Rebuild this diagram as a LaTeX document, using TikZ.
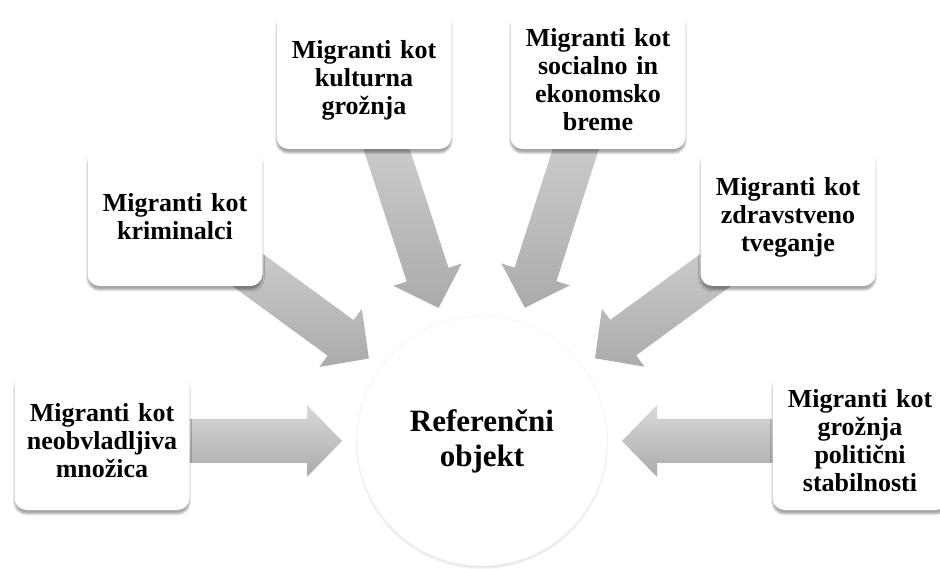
\documentclass[tikz,border=0pt]{standalone}
\usepackage{fontspec}
\setmainfont{Liberation Serif}
\usetikzlibrary{calc,backgrounds,shadows.blur}
% block arrow from a label box (#1) towards the hub (#2)
\newcommand{\blockarrow}[2]{%
  \coordinate (tip) at ($(#2.center)!140pt!(#1.center)$);
  \coordinate (neck) at ($(#2.center)!175pt!(#1.center)$);
  \coordinate (barbl) at ($(neck)!36pt!90:(#1.center)$);
  \coordinate (barbr) at ($(neck)!36pt!-90:(#1.center)$);
  \coordinate (shl) at ($(neck)!22pt!90:(#1.center)$);
  \coordinate (shr) at ($(neck)!22pt!-90:(#1.center)$);
  \coordinate (taill) at ($(#1.center)!22pt!-90:(#2.center)$);
  \coordinate (tailr) at ($(#1.center)!22pt!90:(#2.center)$);
  \shade[fat arrow] (tip) -- (barbl) -- (shl) -- (taill) -- (tailr) -- (shr) -- (barbr) -- cycle;
}
\begin{document}
\begin{tikzpicture}[x=1pt,y=1pt,
  frame/.style={rectangle, rounded corners=12pt, fill=white, minimum width=175pt,
    minimum height=138pt, text width=170pt, align=center, inner sep=0pt,
    font=\fontsize{26}{28}\selectfont\bfseries,
    blur shadow={shadow xshift=0pt, shadow yshift=-4pt, shadow blur steps=6, shadow opacity=35}},
  hub/.style={circle, fill=white, draw=gray!12, minimum size=250pt, inner sep=0pt,
    align=center, font=\fontsize{31}{35}\selectfont\bfseries,
    blur shadow={shadow xshift=0pt, shadow yshift=-2pt, shadow blur steps=6, shadow opacity=12}},
  fat arrow/.style={top color=gray!30, bottom color=gray!66, draw=none}]
\useasboundingbox (0,0) rectangle (940,568);
\node[hub] (ref) at (482,127) {Referenčni\\objekt};
\node[frame] (crowd) at (102,127) {Migranti kot\\neobvladljiva\\množica};
\node[frame] (crime) at (175,351) {Migranti kot\\kriminalci};
\node[frame] (culture) at (364,488) {Migranti kot\\kulturna\\grožnja};
\node[frame] (economy) at (598,488) {Migranti kot\\socialno in\\ekonomsko\\breme\hspace*{18pt}};
\node[frame] (health) at (788,351) {Migranti kot\\zdravstveno\\tveganje};
\node[frame] (politics) at (860,127) {Migranti kot\\grožnja\\politični\\stabilnosti};
\begin{scope}[on background layer]
\foreach \src in {crowd,crime,culture,economy,health,politics}
  \blockarrow{\src}{ref};
\end{scope}
\end{tikzpicture}
\end{document}
